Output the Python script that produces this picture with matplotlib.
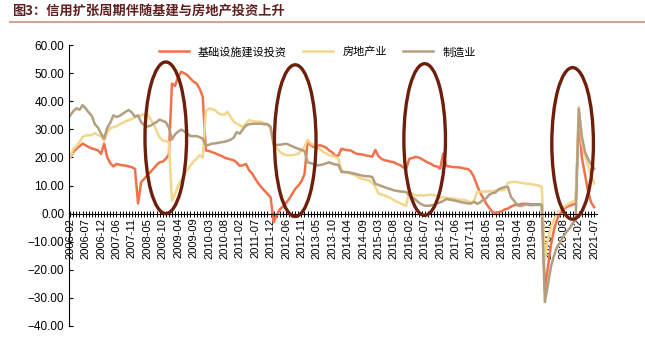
#-*- coding:utf-8 -*-
import numpy as np
import matplotlib
matplotlib.use('Agg')
import matplotlib.pyplot as plt
from matplotlib.patches import Ellipse
from matplotlib.lines import Line2D

plt.rcParams['font.family'] = ['Liberation Sans', 'Noto Sans CJK SC']

# 월별 날짜 (1월은 2월과 합쳐서 발표되므로 없음)
dates = []
for y in range(2006, 2022):
    for m in range(2, 13):
        if y == 2021 and m > 7:
            break
        dates.append('%d-%02d' % (y, m))

# 基础设施建设投资 (%)
infra = [20.1, 22.0, 23.1, 24.0, 24.9, 24.3, 23.7, 23.2, 22.9, 22.5, 21.3,   # 2006
         24.9, 20.0, 18.0, 16.8, 17.7, 17.4, 17.2, 17.1, 16.8, 16.5, 15.9,   # 2007
         3.6, 11.2, 12.4, 13.6, 14.8, 16.0, 17.3, 18.3, 18.5, 19.5, 21.0,    # 2008
         46.3, 45.5, 48.7, 50.5, 50.0, 49.3, 48.1, 47.0, 46.3, 44.5, 41.5,   # 2009
         22.5, 22.3, 21.9, 21.5, 21.0, 20.6, 20.0, 19.6, 19.3, 19.0, 18.2,   # 2010
         17.0, 17.2, 17.7, 15.5, 14.3, 12.5, 10.8, 9.4, 8.2, 7.0, 5.8,       # 2011
         -3.1, -0.5, 1.5, 2.5, 3.8, 5.2, 7.0, 8.8, 10.0, 11.5, 14.0,         # 2012
         25.5, 24.5, 23.7, 24.0, 24.4, 24.0, 23.5, 22.5, 21.8, 20.6, 20.7,   # 2013
         23.1, 22.8, 22.6, 22.5, 21.8, 21.3, 21.2, 21.0, 20.7, 20.5, 20.3,   # 2014
         22.7, 20.5, 19.5, 19.0, 18.8, 18.5, 18.3, 17.7, 17.3, 16.5, 16.0,   # 2015
         19.5, 19.8, 20.2, 20.0, 19.5, 18.8, 18.2, 17.8, 17.0, 16.8, 16.0,   # 2016
         21.3, 17.0, 16.8, 16.6, 16.5, 16.5, 16.3, 16.0, 15.9, 15.0, 13.0,   # 2017
         10.0, 7.5, 5.5, 3.5, 2.0, 0.5, 0.3, 0.5, 0.8, 1.5, 1.8,             # 2018
         2.5, 3.0, 3.2, 3.3, 3.5, 3.5, 3.4, 3.3, 3.3, 3.3, 3.3,              # 2019
         -27.0, -19.0, -11.0, -5.5, -2.0, 0.0, 1.5, 2.3, 2.8, 3.2, 3.5,      # 2020
         34.0, 20.0, 14.0, 8.0, 4.0, 2.3]                                    # 2021

# 房地产业 (%)
estate = [20.1, 23.0, 24.0, 25.5, 27.3, 27.8, 27.9, 28.0, 28.7, 28.0, 27.5,
          26.0, 29.0, 30.5, 30.8, 31.1, 31.8, 32.3, 32.9, 33.3, 33.7, 34.3,
          34.8, 35.0, 35.4, 35.5, 33.7, 31.9, 29.5, 27.1, 26.0, 25.8, 25.5,
          4.6, 7.0, 10.0, 11.8, 14.2, 15.5, 17.2, 18.5, 19.6, 20.8, 20.0,
          36.5, 37.4, 37.2, 36.8, 35.8, 35.3, 35.2, 36.2, 34.5, 32.8, 32.0,
          31.5, 30.9, 32.0, 33.3, 33.0, 32.8, 32.7, 32.7, 32.2, 31.9, 30.0,
          25.0, 23.5, 22.0, 21.3, 20.8, 20.8, 20.8, 21.0, 21.3, 22.5, 23.7,
          26.3, 25.0, 24.5, 23.8, 23.0, 22.0, 21.5, 20.8, 20.5, 20.2, 19.5,
          15.5, 14.8, 14.5, 14.3, 13.8, 13.3, 12.6, 12.4, 12.0, 11.8, 11.0,
          9.5, 7.2, 6.8, 6.5, 6.0, 5.5, 4.8, 4.2, 3.8, 3.2, 2.8,
          7.7, 7.0, 6.5, 6.5, 6.5, 6.5, 6.6, 6.8, 6.5, 6.2, 5.8,
          5.8, 5.6, 5.5, 5.3, 5.2, 5.0, 4.9, 4.8, 4.5, 3.8, 4.5,
          7.7, 7.8, 7.8, 7.9, 8.0, 8.0, 8.2, 8.3, 8.3, 8.5, 11.0,
          11.2, 11.3, 11.2, 11.0, 10.8, 10.6, 10.6, 10.4, 10.2, 10.0, 9.5,
          -16.3, -9.0, -5.0, -2.0, 0.0, 1.2, 2.3, 3.0, 3.7, 4.2, 4.6,
          38.0, 25.0, 21.0, 17.0, 13.5, 10.7]

# 制造业 (%)
manuf = [35.0, 36.5, 37.5, 37.0, 38.6, 37.5, 36.0, 34.8, 31.8, 30.6, 28.5,
         26.7, 30.6, 32.4, 35.0, 34.4, 34.8, 35.5, 36.3, 36.9, 36.0, 34.5,
         35.0, 32.6, 31.5, 31.0, 31.3, 32.0, 32.6, 33.5, 33.0, 32.6, 30.6,
         26.4, 28.2, 29.2, 29.9, 29.3, 28.5, 27.6, 27.6, 27.6, 27.2, 26.7,
         24.2, 24.5, 24.9, 25.0, 25.2, 25.4, 25.6, 25.9, 26.3, 27.0, 29.0,
         28.5, 30.0, 31.4, 31.8, 32.0, 32.0, 32.0, 32.0, 31.8, 31.8, 31.0,
         24.5, 24.5, 24.5, 24.7, 24.9, 24.5, 24.0, 23.5, 23.1, 22.7, 22.3,
         18.3, 18.0, 17.6, 17.2, 17.3, 17.5, 17.9, 18.3, 17.8, 17.5, 17.4,
         14.8, 14.8, 14.8, 14.5, 14.3, 14.0, 13.7, 13.5, 13.3, 13.3, 13.0,
         10.6, 10.2, 9.8, 9.4, 9.0, 8.7, 8.3, 8.1, 7.9, 7.8, 7.7,
         6.5, 5.8, 5.0, 4.0, 3.3, 2.8, 2.8, 2.9, 3.1, 3.6, 4.0,
         4.5, 5.2, 5.0, 4.8, 4.6, 4.3, 4.0, 3.9, 3.6, 3.6, 4.2,
         3.5, 4.0, 5.0, 5.5, 6.8, 7.3, 7.5, 8.7, 9.1, 9.5, 9.5,
         5.9, 4.6, 3.0, 2.7, 3.0, 3.3, 3.0, 3.0, 3.1, 3.1, 3.1,
         -31.5, -25.2, -18.8, -14.8, -11.7, -10.2, -8.1, -6.5, -5.3, -3.5, -2.2,
         37.3, 27.5, 22.0, 19.5, 17.5, 16.0]

# 信用扩张周期 표시용 타원 (중심 월, 중심 값)
circle_dates = ['2008-11', '2012-09', '2016-07', '2020-11']
circle_vals = [27, 26, 26.4, 25]

x = np.arange(len(dates))

fig = plt.figure(figsize=(6.45, 3.42), dpi=100)
ax = fig.add_axes([0.107, 0.047, 0.819, 0.821])

ax.plot(x, infra, color='#F0714A', lw=1.8, label='基础设施建设投资')
ax.plot(x, estate, color='#F2D68C', lw=1.8, label='房地产业')
ax.plot(x, manuf, color='#B39E80', lw=1.8, label='制造业')

# 타원
for d, v in zip(circle_dates, circle_vals):
    e = Ellipse((dates.index(d), v), 13.5, 54, fill=False,
                ec='#6E1F0C', lw=2.4, zorder=5)
    ax.add_patch(e)

ax.set_ylim(-40, 60)
ax.set_xlim(-0.4, 171)
ax.set_yticks(np.arange(-40, 61, 10))
ax.yaxis.set_major_formatter('{x:.2f}')

ax.spines['top'].set_visible(False)
ax.spines['right'].set_visible(False)
ax.spines['bottom'].set_position(('data', 0))

ax.set_xticks(x[::5])
ax.set_xticklabels(dates[::5], rotation=90)
ax.set_xticks(x, minor=True)
ax.tick_params(axis='x', which='both', direction='inout', length=4, width=0.7)
ax.tick_params(axis='x', which='major', labelsize=8, pad=1)
ax.tick_params(axis='y', direction='in', length=3, labelsize=8.5)

ax.legend(loc='upper center', bbox_to_anchor=(0.47, 1.03), ncol=3,
          frameon=False, fontsize=8, handlelength=2.7, columnspacing=1.5)

# 제목과 밑줄
fig.text(0.018, 1 - 11 / 342, '图3：信用扩张周期伴随基建与房地产投资上升',
         fontsize=9.5, fontweight='bold', color='#5E2020', va='center',
         family=['Noto Sans CJK SC'])
fig.add_artist(Line2D([0.015, 1.0], [1 - 22 / 342] * 2, color='#D9A393', lw=1.5))

fig.savefig('out.png', dpi=100)
